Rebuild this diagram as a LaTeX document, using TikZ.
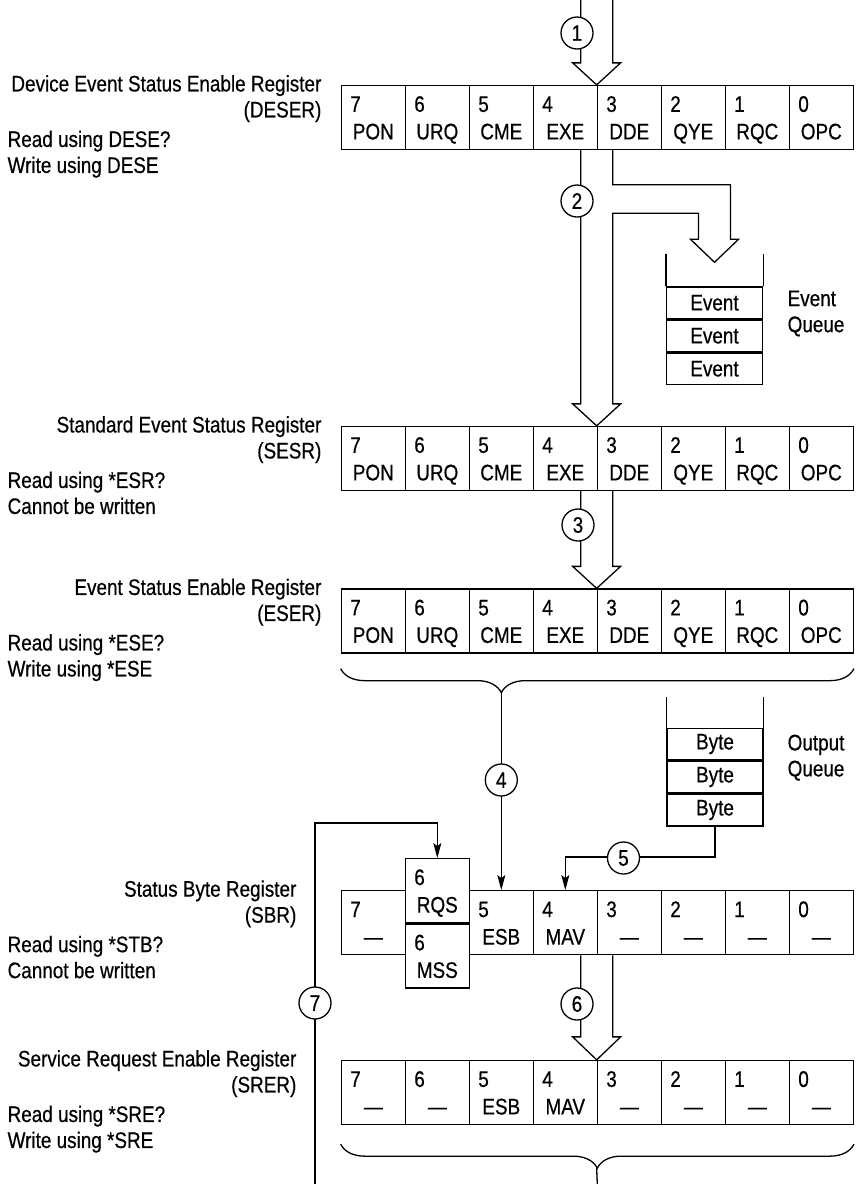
\documentclass[tikz,border=0pt]{standalone}
\usepackage{fontspec}
\setmainfont{Liberation Sans}[FakeStretch=0.84, FakeBold=0.5]
\usepackage{tikz}
\usetikzlibrary{positioning,calc,arrows.meta,decorations.pathreplacing}

\tikzset{
  bitcell/.style 2 args={draw, minimum width=64pt, minimum height=64pt, inner sep=0pt,
    label={[anchor=base west, inner sep=0pt, xshift=9pt, yshift=-27pt]135:#1},
    label={[anchor=base, inner sep=0pt, yshift=-54.5pt]90:#2}},
  qcell/.style={draw, minimum width=96pt, minimum height=31.7pt, inner sep=0pt},
  callout/.style={draw, circle, fill=white, minimum size=32pt, inner sep=0pt},
  thinarr/.style={-{Stealth[length=15pt, width=8pt, inset=3pt]}},
  reglabel/.style={inner sep=0pt, align=right, anchor=north east},
  readlabel/.style={inner sep=0pt, align=left, anchor=north west}
}

\begin{document}
\begin{tikzpicture}[x=1pt, y=-1pt, line width=1.3pt,
    font=\fontsize{22.5}{26}\selectfont]
  \useasboundingbox (0,0) rectangle (858,1184);

  % registers
  \foreach \b/\n in {7/PON,6/URQ,5/CME,4/EXE,3/DDE,2/QYE,1/RQC,0/OPC}{
    \node[bitcell={\b}{\n}] (deser\b) at ({821.3-64*\b},117.5) {};
    \node[bitcell={\b}{\n}] (sesr\b) at ({821.3-64*\b},458.5) {};
    \node[bitcell={\b}{\n}] (eser\b) at ({821.3-64*\b},621) {};
  }
  \foreach \b/\n in {7/—,5/ESB,4/MAV,3/—,2/—,1/—,0/—}
    \node[bitcell={\b}{\n}] (sbr\b) at ({821.3-64*\b},922.7) {};
  \node[bitcell={6}{RQS}] (rqs) at (437.3,890.7) {};
  \node[bitcell={6}{MSS}, below=0pt of rqs] (mss) {};
  \foreach \b/\n in {7/—,6/—,5/ESB,4/MAV,3/—,2/—,1/—,0/—}
    \node[bitcell={\b}{\n}] (srer\b) at ({821.3-64*\b},1092.5) {};

  % register names
  \node[reglabel] (ldeser) at (322,74.5) {Device Event Status Enable Register\\(DESER)};
  \node[readlabel] (rdeser) at (7,130) {Read using DESE?\\Write using DESE};
  \node[reglabel] (lsesr) at (322,415.5) {Standard Event Status Register\\(SESR)};
  \node[readlabel] (rsesr) at (7,471) {Read using *ESR?\\Cannot be written};
  \node[reglabel] (leser) at (322,578) {Event Status Enable Register\\(ESER)};
  \node[readlabel] (reser) at (7,633.5) {Read using *ESE?\\Write using *ESE};
  \node[reglabel] (lsbr) at (297,879.7) {Status Byte Register\\(SBR)};
  \node[readlabel] (rsbr) at (7,935.2) {Read using *STB?\\Cannot be written};
  \node[reglabel] (lsrer) at (297,1049.5) {Service Request Enable Register\\(SRER)};
  \node[readlabel] (rsrer) at (7,1105) {Read using *SRE?\\Write using *SRE};

  % queues
  \node[qcell] (ev1) at (714.5,302.8) {Event};
  \node[qcell, below=0pt of ev1] (ev2) {Event};
  \node[qcell, below=0pt of ev2] (ev3) {Event};
  \draw (ev1.north west) -- ++(0,-32) (ev1.north east) -- ++(0,-32);
  \node[readlabel] (evq) at (787,290) {Event\\Queue};
  \node[qcell] (by1) at (715,744) {Byte};
  \node[qcell, below=0pt of by1] (by2) {Byte};
  \node[qcell, below=0pt of by2] (by3) {Byte};
  \draw (by1.north west) -- ++(0,-31) (by1.north east) -- ++(0,-31);
  \node[readlabel] (byq) at (787,734) {Output\\Queue};

  % wide arrows
  \draw (deser3.north west) ++(-16,-86) -- ++(0,64) -- ++(-8,0) -- (deser3.north west)
    -- ++(24,-22) -- ++(-8,0) -- ++(0,-64);
  \draw (deser3.south west) ++(-16,0) -- ($(sesr3.north west)+(-16,-22)$) -- ++(-8,0)
    -- (sesr3.north west) -- ++(24,-22) -- ++(-8,0) |- ($(ev1.north)+(-16,-73)$)
    -- ++(0,26) -- ++(-8,0) -- ($(ev1.north)+(0,-24)$) -- ++(24,-23) -- ++(-8,0)
    |- ($(deser3.south west)+(16,34.5)$) -- ($(deser3.south west)+(16,0)$);
  \draw (sesr3.south west) ++(-16,0) -- ($(eser3.north west)+(-16,-22)$) -- ++(-8,0)
    -- (eser3.north west) -- ++(24,-22) -- ++(-8,0) -- ($(sesr3.south west)+(16,0)$);
  \draw (sbr3.south west) ++(-16,0) -- ($(srer3.north west)+(-16,-23)$) -- ++(-8,0)
    -- (srer3.north west) -- ++(24,-23) -- ++(-8,0) -- ($(sbr3.south west)+(16,0)$);

  % braces
  \draw[decorate, decoration={brace, mirror, amplitude=24pt, aspect=0.313}]
    ($(eser7.south west)+(0,15)$) -- ($(eser0.south east)+(0,15)$);
  \draw[decorate, decoration={brace, mirror, amplitude=24pt}]
    ($(srer7.south west)+(0,19)$) -- ($(srer0.south east)+(0,19)$);
  \coordinate (esertip) at ($(eser5.south)+(0,39)$);
  \coordinate (srertip) at ($(srer3.south west)+(0,43)$);
  \coordinate (bot) at (597.3,1184);
  \coordinate (r7) at (315,1184);
  \draw (srertip) -- (bot);

  % thin arrows
  \draw[thinarr] (esertip) -- (sbr5.north);
  \draw[thinarr] (by3.south) |- ($(sbr4.north)+(0,-33)$) -- (sbr4.north);
  \draw[thinarr] (r7) |- ($(rqs.north)+(0,-35)$) -- (rqs.north);

  % step numbers
  \node[callout] (c1) at (577,33) {1};
  \node[callout] (c2) at (577,201) {2};
  \node[callout] (c3) at (578,525) {3};
  \node[callout] (c4) at (501.3,780) {4};
  \node[callout] (c5) at (623.5,858) {5};
  \node[callout] (c6) at (577,1004) {6};
  \node[callout] (c7) at (315,1003) {7};
\end{tikzpicture}
\end{document}
